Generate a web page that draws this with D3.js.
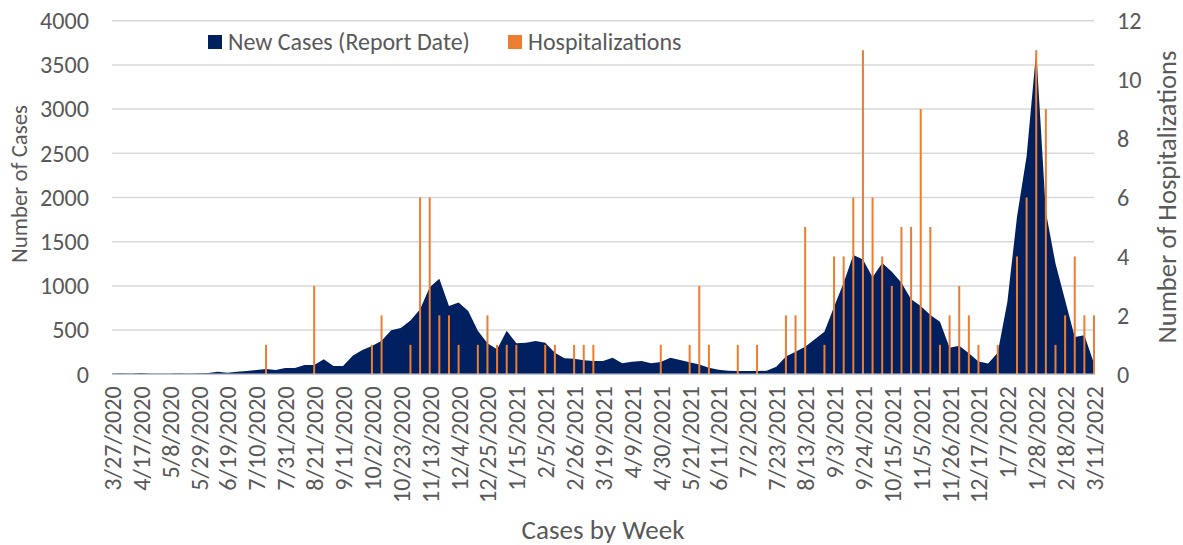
<!doctype html>
<html lang="en">
<head>
  <meta charset="utf-8">
  <title>New Cases and Hospitalizations by Week</title>
  <style>
    body { margin: 0; background: #fff; }
    text { font-family: Carlito, Calibri, Lato, sans-serif; fill: #595959; }
    .grid line { stroke: #d9d9d9; stroke-width: 1.5; }
  </style>
</head>
<body>
<div id="chart"></div>

<script src="https://d3js.org/d3.v7.min.js"></script>
<script>
  // weekly new cases (report date), first week 3/27/2020
  const cases = [
    10, 12, 10, 15, 10, 8, 10, 12, 10, 12,
    15, 30, 18, 30, 37, 49, 60, 49, 71, 71,
    105, 105, 170, 94, 94, 210, 275, 320, 380, 497,
    525, 610, 735, 984, 1080, 773, 812, 716, 493, 351,
    283, 493, 351, 358, 376, 358, 245, 181, 177, 158,
    151, 151, 188, 124, 143, 151, 124, 139, 188, 162,
    136, 110, 75, 52, 40, 37, 37, 37, 40, 85,
    200, 256, 313, 396, 482, 765, 1036, 1350, 1300, 1097,
    1258, 1160, 1036, 848, 773, 671, 595, 301, 324, 238,
    145, 122, 245, 818, 1780, 2466, 3658, 1836, 1252, 837,
    422, 441, 121
  ];

  // weekly hospitalizations (right axis)
  const hospitalizations = [
    0, 0, 0, 0, 0, 0, 0, 0, 0, 0,
    0, 0, 0, 0, 0, 0, 1, 0, 0, 0,
    0, 3, 0, 0, 0, 0, 0, 1, 2, 0,
    0, 1, 6, 6, 2, 2, 1, 0, 1, 2,
    1, 1, 1, 0, 0, 1, 1, 0, 1, 1,
    1, 0, 0, 0, 0, 0, 0, 1, 0, 0,
    1, 3, 1, 0, 0, 1, 0, 1, 0, 0,
    2, 2, 5, 0, 1, 4, 4, 6, 11, 6,
    4, 3, 5, 5, 9, 5, 1, 2, 3, 2,
    1, 0, 1, 0, 4, 6, 11, 9, 1, 2,
    4, 2, 2
  ];

  // week labels, one every third week
  const tickLabels = [
    '3/27/2020', '4/17/2020', '5/8/2020', '5/29/2020', '6/19/2020', '7/10/2020',
    '7/31/2020', '8/21/2020', '9/11/2020', '10/2/2020', '10/23/2020', '11/13/2020',
    '12/4/2020', '12/25/2020', '1/15/2021', '2/5/2021', '2/26/2021', '3/19/2021',
    '4/9/2021', '4/30/2021', '5/21/2021', '6/11/2021', '7/2/2021', '7/23/2021',
    '8/13/2021', '9/3/2021', '9/24/2021', '10/15/2021', '11/5/2021', '11/26/2021',
    '12/17/2021', '1/7/2022', '1/28/2022', '2/18/2022', '3/11/2022'
  ];

  const caseTicks = [0, 500, 1000, 1500, 2000, 2500, 3000, 3500, 4000];
  const hospTicks = [0, 2, 4, 6, 8, 10, 12];

  // week-ending dates, one per data point
  const fmt = d3.timeFormat('%-m/%-d/%Y');
  const weeks = cases.map((d, i) => fmt(d3.timeDay.offset(new Date(2020, 2, 27), 7 * i)));

  const width = 1183;
  const height = 545;
  const plotLeft = 112, plotRight = 1094, plotTop = 20.7, plotBottom = 374.3;

  const svg = d3.select('#chart')
    .append('svg')
    .attr('width', width)
    .attr('height', height);

  // pick a font size so a string comes out at the width it has in the picture
  function fitSize(str, target) {
    const t = svg.append('text').style('font-size', '20px').text(str);
    const w = t.node().getComputedTextLength();
    t.remove();
    return 20 * target / w;
  }

  const tickSize = fitSize('4000', 49);
  const legendSize = fitSize('New Cases (Report Date)', 242);

  const x = d3.scalePoint()
    .domain(weeks)
    .range([plotLeft, plotRight]);

  const y = d3.scaleLinear()
    .domain([0, 4000])
    .range([plotBottom, plotTop]);

  const y2 = d3.scaleLinear()
    .domain([0, 12])
    .range([plotBottom, plotTop]);

  // horizontal gridlines
  svg.append('g')
    .attr('class', 'grid')
    .selectAll('line')
    .data(caseTicks.slice(1))
    .join('line')
    .attr('x1', plotLeft)
    .attr('x2', plotRight)
    .attr('y1', d => y(d))
    .attr('y2', d => y(d));

  // new cases area
  const area = d3.area()
    .x((d, i) => x(weeks[i]))
    .y0(plotBottom)
    .y1(d => y(d));

  svg.append('path')
    .datum(cases)
    .attr('fill', '#002060')
    .attr('d', area);

  // hospitalizations as thin columns
  svg.append('g')
    .selectAll('rect')
    .data(hospitalizations)
    .join('rect')
    .attr('x', (d, i) => x(weeks[i]) - 1)
    .attr('width', 2)
    .attr('y', d => y2(d))
    .attr('height', d => plotBottom - y2(d))
    .attr('fill', '#ED7D31');

  // category axis line
  svg.append('line')
    .attr('x1', plotLeft)
    .attr('x2', plotRight)
    .attr('y1', plotBottom)
    .attr('y2', plotBottom)
    .attr('stroke', '#c3c7cf')
    .attr('stroke-width', 1.5);

  // left axis
  const yAxis = svg.append('g')
    .attr('transform', `translate(${plotLeft},0)`)
    .call(d3.axisLeft(y).tickValues(caseTicks).tickFormat(d3.format('d')).tickSize(0).tickPadding(23));
  yAxis.select('.domain').remove();
  yAxis.selectAll('text')
    .style('font-family', 'Carlito, Calibri, Lato, sans-serif')
    .style('font-size', tickSize + 'px')
    .attr('fill', '#595959');

  // right axis
  const yAxis2 = svg.append('g')
    .attr('transform', `translate(${plotRight},0)`)
    .call(d3.axisRight(y2).tickValues(hospTicks).tickFormat(d3.format('d')).tickSize(0).tickPadding(23));
  yAxis2.select('.domain').remove();
  yAxis2.selectAll('text')
    .style('font-family', 'Carlito, Calibri, Lato, sans-serif')
    .style('font-size', tickSize + 'px')
    .attr('fill', '#595959');

  // bottom axis, rotated week labels
  const xAxis = svg.append('g')
    .attr('transform', `translate(0,${plotBottom})`)
    .call(d3.axisBottom(x).tickValues(tickLabels).tickSize(0));
  xAxis.select('.domain').remove();
  xAxis.selectAll('text')
    .attr('transform', 'rotate(-90)')
    .attr('x', -12)
    .attr('y', 0)
    .attr('dy', '0.35em')
    .style('text-anchor', 'end')
    .style('font-family', 'Carlito, Calibri, Lato, sans-serif')
    .style('font-size', tickSize + 'px')
    .attr('fill', '#595959');

  // axis titles
  svg.append('text')
    .attr('transform', 'translate(19,184) rotate(-90)')
    .attr('text-anchor', 'middle')
    .attr('dy', '0.35em')
    .style('font-size', fitSize('Number of Cases', 158) + 'px')
    .text('Number of Cases');

  svg.append('text')
    .attr('transform', 'translate(1167,197) rotate(-90)')
    .attr('text-anchor', 'middle')
    .attr('dy', '0.35em')
    .style('font-size', fitSize('Number of Hospitalizations', 293) + 'px')
    .text('Number of Hospitalizations');

  svg.append('text')
    .attr('x', 603)
    .attr('y', 530)
    .attr('text-anchor', 'middle')
    .attr('dy', '0.35em')
    .style('font-size', fitSize('Cases by Week', 163) + 'px')
    .text('Cases by Week');

  // legend
  const legendItems = [
    { name: 'New Cases (Report Date)', color: '#002060', x: 208 },
    { name: 'Hospitalizations', color: '#ED7D31', x: 508 }
  ];

  const legend = svg.append('g')
    .selectAll('g')
    .data(legendItems)
    .join('g')
    .attr('transform', d => `translate(${d.x},42)`);

  legend.append('rect')
    .attr('x', 0)
    .attr('y', -7)
    .attr('width', 14)
    .attr('height', 14)
    .attr('fill', d => d.color);

  legend.append('text')
    .attr('x', 20)
    .attr('dy', '0.35em')
    .style('font-size', legendSize + 'px')
    .text(d => d.name);
</script>
</body>
</html>
